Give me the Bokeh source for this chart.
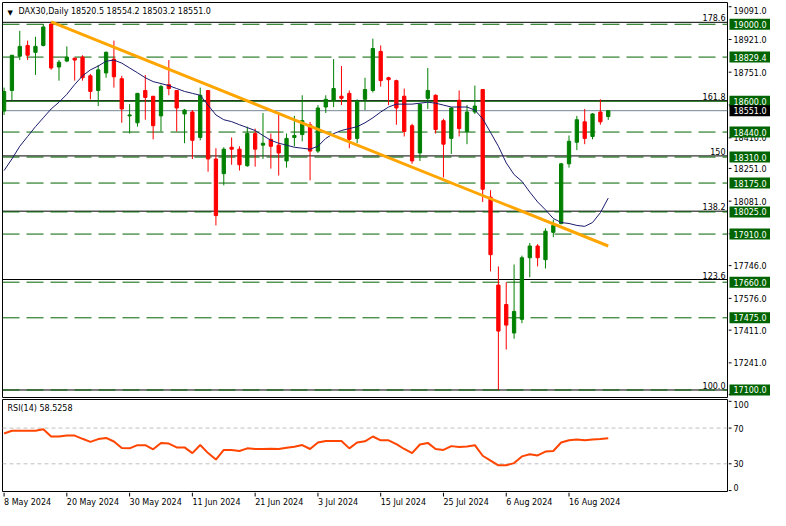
import numpy as np
from bokeh.plotting import figure
from bokeh.layouts import column, row
from bokeh.models import Range1d, Span, Label, ColumnDataSource
from bokeh.embed import file_html
from bokeh.resources import INLINE
from bokeh.core.properties import value

# ---------------- data ----------------
symbol = "DAX30,Daily"

opens = [18549, 18656, 18834, 18890, 18854, 18890, 19001, 18778, 18809, 18824,
         18829, 18732, 18656, 18747, 18819, 18717, 18524, 18488, 18656, 18626,
         18524, 18686, 18656, 18534, 18544, 18412, 18656, 18300, 18224, 18361,
         18351, 18265, 18432, 18372, 18402, 18372, 18290, 18412, 18427, 18478,
         18341, 18570, 18605, 18626, 18641, 18407, 18610, 18656, 18859, 18722,
         18707, 18626, 18473, 18331, 18615, 18631, 18499, 18407, 18605, 18443,
         18544, 18661, 18102, 17645, 17544, 17396, 17467, 17787, 17848, 17777,
         17919, 17965, 18275, 18387, 18493, 18417, 18544, 18520.5]
highs = [18671, 18839, 18966, 18915, 18935, 19001, 19012, 18814, 18885, 18824,
         18839, 18742, 18788, 18859, 18915, 18732, 18585, 18641, 18737, 18626,
         18686, 18814, 18656, 18560, 18554, 18671, 18656, 18356, 18361, 18412,
         18366, 18468, 18458, 18539, 18432, 18529, 18432, 18524, 18631, 18493,
         18580, 18631, 18819, 18783, 18656, 18610, 18722, 18925, 18890, 18727,
         18712, 18666, 18483, 18585, 18773, 18636, 18509, 18570, 18656, 18580,
         18681, 18661, 18138, 17742, 17660, 17752, 17798, 17864, 17858, 17940,
         17985, 18280, 18422, 18524, 18560, 18539, 18610, 18554.2]
lows = [18529, 18605, 18814, 18814, 18737, 18885, 18763, 18707, 18803, 18707,
        18707, 18610, 18575, 18722, 18671, 18488, 18432, 18468, 18504, 18402,
        18443, 18631, 18443, 18382, 18300, 18397, 18234, 17955, 18163, 18270,
        18240, 18260, 18260, 18300, 18250, 18214, 18255, 18366, 18392, 18189,
        18331, 18539, 18570, 18580, 18356, 18382, 18554, 18646, 18676, 18580,
        18478, 18417, 18275, 18290, 18560, 18432, 18204, 18326, 18417, 18377,
        18534, 18077, 17716, 17100, 17310, 17366, 17447, 17686, 17742, 17731,
        17894, 17960, 18255, 18346, 18377, 18402, 18478, 18503.2]
closes = [18651, 18839, 18885, 18839, 18885, 18986, 18773, 18803, 18829, 18814,
          18722, 18651, 18763, 18854, 18727, 18560, 18529, 18641, 18620, 18473,
          18676, 18666, 18565, 18554, 18397, 18631, 18300, 18006, 18351, 18351,
          18270, 18432, 18351, 18382, 18366, 18331, 18407, 18422, 18499, 18341,
          18565, 18610, 18666, 18615, 18402, 18600, 18661, 18874, 18707, 18712,
          18565, 18443, 18290, 18585, 18656, 18453, 18377, 18565, 18458, 18544,
          18575, 18143, 17803, 17406, 17437, 17508, 17787, 17848, 17787, 17925,
          17955, 18275, 18392, 18504, 18407, 18534, 18493, 18551.0]

ma20 = [18240, 18300, 18366, 18417, 18468, 18514, 18560, 18595, 18636, 18687,
        18732, 18763, 18783, 18808, 18814, 18798, 18773, 18748, 18722, 18702,
        18692, 18681, 18666, 18651, 18641, 18631, 18580, 18529, 18504, 18494,
        18478, 18463, 18448, 18422, 18397, 18382, 18372, 18361, 18356, 18351,
        18366, 18407, 18432, 18448, 18458, 18468, 18488, 18514, 18544, 18570,
        18585, 18585, 18585, 18590, 18595, 18590, 18580, 18570, 18570, 18570,
        18554, 18509, 18438, 18366, 18280, 18219, 18184, 18128, 18077, 18036,
        17991, 17970, 17965, 17955, 17950, 17970, 18021, 18097]

rsi14 = [64.0, 67.0, 67.0, 67.0, 67.0, 68.8, 60.6, 60.6, 61.6, 61.6,
         58.0, 54.5, 57.7, 59.0, 55.0, 47.6, 47.3, 50.9, 50.9, 46.2,
         53.4, 52.7, 48.4, 48.4, 42.0, 51.0, 42.0, 34.8, 45.5, 45.5,
         44.4, 47.3, 46.6, 46.6, 47.0, 46.6, 48.0, 49.0, 51.0, 46.6,
         53.8, 55.6, 55.6, 55.6, 47.3, 53.8, 55.2, 60.6, 56.3, 56.3,
         52.0, 46.6, 42.0, 51.6, 53.4, 46.6, 45.5, 49.8, 48.7, 49.5,
         50.9, 39.0, 33.6, 28.3, 28.3, 30.8, 38.3, 40.8, 39.4, 43.7,
         44.4, 53.8, 56.3, 57.3, 56.3, 57.3, 57.7, 58.5258]

date_tick_idx = [0, 8, 16, 24, 32, 40, 48, 56, 64, 72]
date_tick_labels = ["8 May 2024", "20 May 2024", "30 May 2024", "11 Jun 2024", "21 Jun 2024",
                    "3 Jul 2024", "15 Jul 2024", "25 Jul 2024", "6 Aug 2024", "16 Aug 2024"]
price_ticks = [19091.0, 18921.0, 18751.0, 18581.0, 18410.0, 18251.0, 18081.0,
               17911.0, 17746.0, 17576.0, 17411.0, 17241.0, 17076.0]
sr_levels = [19000.0, 18829.4, 18600.0, 18440.0, 18310.0, 18175.0, 18025.0,
             17910.0, 17660.0, 17475.0, 17100.0]
sr_solid = [18600.0]
fib_levels = [17100, 17674, 18029, 18316, 18603, 19010]
fib_labels = ["100.0", "123.6", "138.2", "150", "161.8", "178.6"]
trend_idx = [6, 77]
trend_price = [19012, 17848]
rsi_ticks = [0, 30, 70, 100]
rsi_levels = [30, 70]

# ---------------- styles ----------------
FONT = "DejaVu Sans"
FS = "8px"
GREEN = "#006400"
BULL = "#008000"
BEAR = "#FF0000"
LEFT_W = 728     # 2 + 725 frame + 1
RIGHT_W = 42
MAIN_H = 398
RSI_H = 94
DATE_H = 18


def base_fig(width, height, x_range, y_range, **kw):
    f = figure(width=width, height=height, x_range=x_range, y_range=y_range,
               output_backend="svg", toolbar_location=None,
               x_axis_location=None, y_axis_location=None, **kw)
    f.grid.visible = False
    f.background_fill_color = "white"
    f.border_fill_color = "white"
    return f


xr = Range1d(-0.2, 92.2)
yr = Range1d(17061, 19113)
ryr = Range1d(-1, 102)

# ---------------- main price panel ----------------
p = base_fig(LEFT_W, MAIN_H, xr, yr, min_border_left=2, min_border_right=1,
             min_border_top=2, min_border_bottom=1)
p.outline_line_color = "black"
p.outline_line_width = 1

for lvl in fib_levels:
    p.add_layout(Span(location=lvl, dimension="width", line_color="black",
                      line_width=1, level="underlay"))
for lvl in sr_levels:
    dash = "solid" if lvl in sr_solid else "17 7"
    p.add_layout(Span(location=lvl, dimension="width", line_color=GREEN,
                      line_width=1, line_dash=dash, level="underlay"))
p.add_layout(Span(location=closes[-1], dimension="width", line_color="#778899",
                  line_width=1, level="underlay"))

idx = np.arange(len(opens))
o = np.array(opens, dtype=float)
c = np.array(closes, dtype=float)
colors = [BULL if cc >= oo else BEAR for oo, cc in zip(o, c)]
src = ColumnDataSource(dict(x=idx, h=highs, l=lows, top=np.maximum(o, c),
                            bottom=np.minimum(o, c), color=colors))
p.segment(x0="x", y0="l", x1="x", y1="h", source=src, line_color="color", line_width=1)
p.vbar(x="x", top="top", bottom="bottom", width=0.42, source=src,
       fill_color="color", line_color="color", line_width=1)

p.line(idx, ma20, line_color="#1a1a6e", line_width=1)
p.line(trend_idx, trend_price, line_color="#FFA500", line_width=3)

p.text(x=[xr.end] * len(fib_levels), y=fib_levels, text=fib_labels,
       text_align="right", text_baseline="bottom", x_offset=-2, y_offset=-1,
       text_font=value(FONT), text_font_size=FS, text_color="black")

p.add_layout(Label(x=xr.start, y=yr.end, x_offset=5, y_offset=-6, text="\u25bc",
                   text_font=FONT, text_font_size="7px", text_color="black",
                   text_baseline="top"))
header = f"{symbol}  {opens[-1]:.1f} {highs[-1]:.1f} {lows[-1]:.1f} {closes[-1]:.1f}"
p.add_layout(Label(x=xr.start, y=yr.end, x_offset=16, y_offset=-4, text=header,
                   text_font=FONT, text_font_size=FS, text_color="black",
                   text_baseline="top"))

# ---------------- main price scale (right) ----------------
pr = base_fig(RIGHT_W, MAIN_H, Range1d(0, RIGHT_W), yr, min_border_left=0,
              min_border_right=0, min_border_top=2, min_border_bottom=1)
pr.outline_line_color = None
# labels too close to the panel edge sit on the inner side of their tick
tick_baselines = ["bottom" if t - yr.start < 40 else ("top" if yr.end - t < 40 else "middle")
                  for t in price_ticks]
pr.segment(x0=[0] * len(price_ticks), y0=price_ticks, x1=[3] * len(price_ticks),
           y1=price_ticks, line_color="black", line_width=1)
pr.text(x=[5] * len(price_ticks), y=price_ticks, text=[f"{t:.1f}" for t in price_ticks],
        text_align="left", text_baseline=tick_baselines, text_font=value(FONT),
        text_font_size=FS, text_color="black")
pr.rect(x=[21.5] * len(sr_levels), y=sr_levels, width=41, height=11,
        height_units="screen", fill_color=GREEN, line_color=None)
pr.text(x=[21.5] * len(sr_levels), y=sr_levels, text=[f"{v:.1f}" for v in sr_levels],
        text_align="center", text_baseline="middle", text_font=value(FONT),
        text_font_size=FS, text_color="white")
pr.rect(x=[21.5], y=[closes[-1]], width=41, height=11, height_units="screen",
        fill_color="black", line_color=None)
pr.text(x=[21.5], y=[closes[-1]], text=[f"{closes[-1]:.1f}"], text_align="center",
        text_baseline="middle", text_font=value(FONT), text_font_size=FS,
        text_color="white")

# ---------------- RSI panel ----------------
r = base_fig(LEFT_W, RSI_H, xr, ryr, min_border_left=2, min_border_right=1,
             min_border_top=1, min_border_bottom=1)
r.outline_line_color = "black"
for lvl in rsi_levels:
    r.add_layout(Span(location=lvl, dimension="width", line_color="#C0C0C0",
                      line_width=1, line_dash="4 3", level="underlay"))
r.line(idx, rsi14, line_color="#FF4500", line_width=2)
r.add_layout(Label(x=xr.start, y=ryr.end, x_offset=5, y_offset=-4,
                   text=f"RSI(14) {rsi14[-1]}", text_font=FONT, text_font_size=FS,
                   text_color="black", text_baseline="top"))

rr = base_fig(RIGHT_W, RSI_H, Range1d(0, RIGHT_W), ryr, min_border_left=0,
              min_border_right=0, min_border_top=1, min_border_bottom=1)
rr.outline_line_color = None
rsi_baselines = ["bottom" if t == min(rsi_ticks) else ("top" if t == max(rsi_ticks) else "middle")
                 for t in rsi_ticks]
rr.segment(x0=[0] * len(rsi_ticks), y0=rsi_ticks, x1=[3] * len(rsi_ticks), y1=rsi_ticks,
           line_color="black", line_width=1)
rr.text(x=[5] * len(rsi_ticks), y=rsi_ticks, text=[str(t) for t in rsi_ticks],
        text_align="left", text_baseline=rsi_baselines, text_font=value(FONT),
        text_font_size=FS, text_color="black")

# ---------------- date axis ----------------
d = base_fig(LEFT_W + RIGHT_W, DATE_H, xr, Range1d(0, DATE_H), min_border_left=2,
             min_border_right=RIGHT_W + 1, min_border_top=0, min_border_bottom=0)
d.outline_line_color = None
d.segment(x0=date_tick_idx, y0=[DATE_H] * len(date_tick_idx), x1=date_tick_idx,
          y1=[DATE_H - 4] * len(date_tick_idx), line_color="black", line_width=1)
d.text(x=date_tick_idx, y=[DATE_H - 5] * len(date_tick_idx), text=date_tick_labels,
       text_align="left", text_baseline="top", x_offset=0, text_font=value(FONT),
       text_font_size=FS, text_color="black")

layout = column(row(p, pr, spacing=0), row(r, rr, spacing=0), d, spacing=0)
open("out.html", "w").write(file_html(layout, INLINE))
